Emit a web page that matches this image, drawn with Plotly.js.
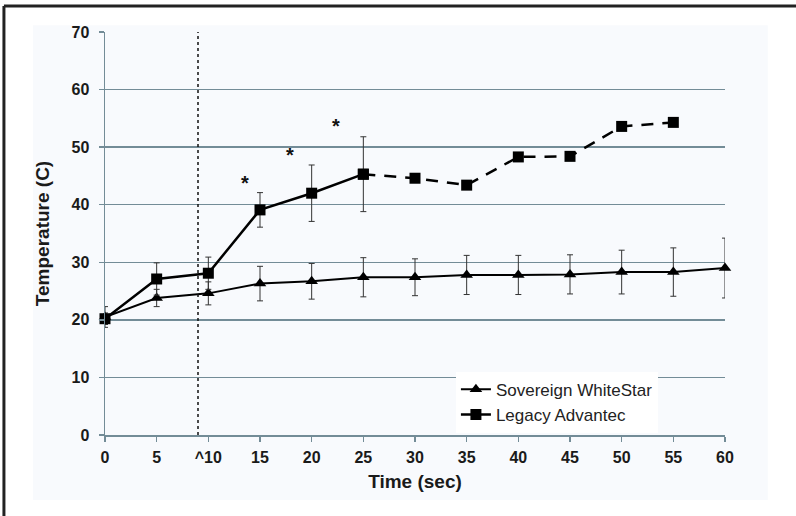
<!DOCTYPE html>
<html>
<head>
<meta charset="utf-8">
<script src="https://cdn.plot.ly/plotly-3.0.1.min.js"></script>
<style>html,body{margin:0;padding:0;background:#fff;}#chart{width:796px;height:516px;}</style>
</head>
<body>
<div id="chart"></div>
<script>
// Data
const times = [0, 5, 10, 15, 20, 25, 30, 35, 40, 45, 50, 55, 60];
const tickLabels = ["0", "5", "^10", "15", "20", "25", "30", "35", "40", "45", "50", "55", "60"];
const sovereignMean = [20.5, 23.8, 24.6, 26.3, 26.7, 27.4, 27.4, 27.8, 27.8, 27.9, 28.3, 28.3, 29.0];
const sovereignSD = [1.8, 1.5, 2.0, 3.0, 3.1, 3.4, 3.2, 3.4, 3.4, 3.4, 3.8, 4.2, 5.2];
const legacyTimes = [0, 5, 10, 15, 20, 25, 30, 35, 40, 45, 50, 55];
const legacyMean = [20.2, 27.1, 28.1, 39.1, 42.0, 45.3, 44.6, 43.4, 48.3, 48.4, 53.6, 54.3];
const legacySD = [1.0, 2.8, 2.8, 3.0, 4.9, 6.5];
const sigTimes = [13.5, 17.9, 22.4];
const sigTemps = [43.8, 48.7, 53.6];
const markerTime = 9;

const nSolid = legacySD.length;
const gridColor = '#738c97';
const font = 'Liberation Sans, Arial, sans-serif';

const traces = [
  {
    x: times, y: sovereignMean, name: 'Sovereign WhiteStar', type: 'scatter', mode: 'lines+markers',
    cliponaxis: false,
    line: {color: '#000', width: 2},
    marker: {symbol: 'triangle-up', size: 11, color: '#000'},
    error_y: {type: 'data', array: sovereignSD, visible: true, color: '#333', thickness: 1, width: 3}
  },
  {
    x: legacyTimes.slice(0, nSolid), y: legacyMean.slice(0, nSolid), name: 'Legacy Advantec', type: 'scatter', mode: 'lines+markers',
    cliponaxis: false,
    line: {color: '#000', width: 2.5},
    marker: {symbol: 'square', size: 11, color: '#000'},
    error_y: {type: 'data', array: legacySD, visible: true, color: '#333', thickness: 1, width: 3}
  },
  {
    x: legacyTimes.slice(nSolid - 1), y: legacyMean.slice(nSolid - 1), name: 'Legacy Advantec', type: 'scatter', mode: 'lines+markers',
    showlegend: false, cliponaxis: false,
    line: {color: '#000', width: 2.5, dash: '12px,9px'},
    marker: {symbol: 'square', size: 11, color: '#000'}
  }
];

const annotations = sigTimes.map((t, i) => ({
  x: t, y: sigTemps[i], xref: 'x', yref: 'y', text: '<b>*</b>', showarrow: false,
  font: {family: font, size: 20, color: '#111'}
}));

const layout = {
  width: 796, height: 516,
  margin: {l: 105, r: 71, t: 32, b: 81},
  paper_bgcolor: '#ffffff',
  plot_bgcolor: 'rgba(0,0,0,0)',
  font: {family: font, color: '#222'},
  showlegend: true,
  legend: {
    x: 0.566, y: 0.157, xanchor: 'left', yanchor: 'top',
    bgcolor: '#ffffff', borderwidth: 0,
    font: {family: font, size: 17, color: '#222'},
    itemwidth: 30, tracegroupgap: 0
  },
  xaxis: {
    range: [0, 60], tickmode: 'array', tickvals: times, ticktext: tickLabels,
    showgrid: false, zeroline: false,
    showline: true, linecolor: gridColor, linewidth: 1.5,
    ticks: 'outside', ticklen: 5, tickcolor: gridColor, tickwidth: 1.5,
    ticklabelstandoff: 2,
    tickfont: {family: font, size: 16, color: '#1a1a1a', weight: 'bold'},
    title: {text: '<b>Time (sec)</b>', font: {family: font, size: 19, color: '#1a1a1a'}, standoff: 10},
    fixedrange: true
  },
  yaxis: {
    range: [0, 70], tickmode: 'linear', tick0: 0, dtick: 10,
    showgrid: true, gridcolor: gridColor, gridwidth: 1.5, zeroline: false,
    showline: true, linecolor: gridColor, linewidth: 1.5,
    ticks: 'outside', ticklen: 5, tickcolor: gridColor, tickwidth: 1.5,
    ticklabelstandoff: 6,
    tickfont: {family: font, size: 16, color: '#1a1a1a', weight: 'bold'},
    title: {text: '<b>Temperature (C)</b>', font: {family: font, size: 19, color: '#1a1a1a'}, standoff: 17},
    fixedrange: true
  },
  shapes: [
    {type: 'rect', xref: 'paper', yref: 'paper', x0: -0.116, x1: 1.069, y0: -0.161, y1: 1.017,
      fillcolor: '#f8fafd', line: {width: 0}, layer: 'below'},
    {type: 'line', xref: 'x', yref: 'y', x0: markerTime, x1: markerTime, y0: 0, y1: 70,
      line: {color: '#111', width: 1.5, dash: 'dot'}},
    {type: 'line', xref: 'paper', yref: 'paper', x0: -0.163, x1: 1.2, y0: 1.0645, y1: 1.0645,
      line: {color: '#222', width: 3}},
    {type: 'line', xref: 'paper', yref: 'paper', x0: -0.163, x1: -0.163, y0: 1.0645, y1: -0.25,
      line: {color: '#222', width: 3}}
  ],
  annotations: annotations
};

Plotly.newPlot('chart', traces, layout, {displayModeBar: false, staticPlot: true});
</script>
</body>
</html>
